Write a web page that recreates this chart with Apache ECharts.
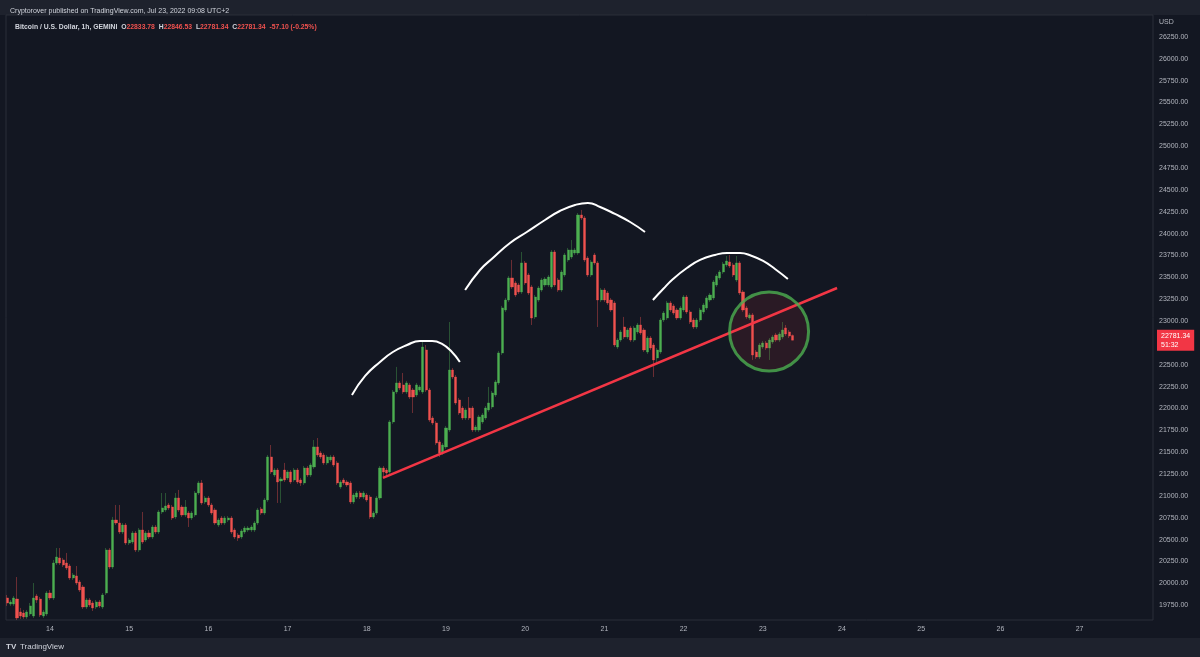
<!DOCTYPE html>
<html><head><meta charset="utf-8">
<script src="https://cdn.jsdelivr.net/npm/echarts@6/dist/echarts.min.js"></script>
<style>html,body{margin:0;padding:0;background:#131722;}#c{width:1200px;height:657px;}</style>
</head><body><div id="c"></div>
<script>
// hourly candles: [hours from Jul 14 00:00, open, close, low, high]
const candles = [
[-13,19832,19775,19741,19866],[-12,19763,19786,19741,19809],[-11,19763,19832,19741,19855],[-10,19820,19603,19580,20072],
[-9,19672,19626,19592,19718],[-8,19660,19615,19592,19695],[-7,19615,19672,19592,19695],[-6,19649,19741,19626,19775],
[-5,19626,19832,19603,20003],[-4,19855,19809,19775,19878],[-3,19820,19638,19615,19843],[-2,19626,19672,19603,19695],
[-1,19649,19889,19626,19912],[0,19889,19832,19809,19923],[1,19832,20232,19809,20267],[2,20232,20301,20209,20404],
[3,20290,20232,20209,20404],[4,20267,20209,20186,20290],[5,20232,20175,20152,20347],[6,20198,20061,20038,20221],
[7,20061,20095,20038,20118],[8,20084,20003,19980,20198],[9,20015,19923,19900,20038],[10,19958,19729,19706,19980],
[11,19729,19809,19706,19832],[12,19809,19752,19729,19832],[13,19775,19718,19683,19798],[14,19729,19786,19706,19809],
[15,19786,19741,19718,19809],[16,19729,19866,19706,19889],[17,19889,20381,19866,20404],[18,20381,20186,20163,20404],
[19,20186,20724,20163,20759],[20,20724,20690,20667,20896],[21,20690,20587,20564,20896],[22,20587,20667,20564,20690],
[23,20667,20461,20438,20690],[24,20461,20495,20438,20518],[25,20472,20575,20450,20598],[26,20575,20381,20358,20598],
[27,20381,20610,20358,20632],[28,20610,20472,20450,20816],[29,20495,20575,20472,20598],[30,20575,20530,20507,20610],
[31,20530,20644,20507,20667],[32,20644,20587,20564,20667],[33,20587,20816,20564,20839],[34,20816,20862,20793,21033],
[35,20839,20884,20816,21033],[36,20896,20862,20839,20919],[37,20873,20747,20724,20896],[38,20759,20976,20736,21033],
[39,20976,20839,20816,21068],[40,20873,20782,20759,20896],[41,20782,20873,20759,20953],[42,20804,20747,20644,20827],
[43,20747,20804,20724,20827],[44,20782,21033,20759,21056],[45,21033,21148,21010,21171],[46,21148,20919,20896,21182],
[47,20930,20976,20907,20999],[48,20976,20896,20873,20999],[49,20896,20804,20782,20919],[50,20839,20690,20667,20862],
[51,20667,20724,20644,20747],[52,20747,20690,20667,20770],[53,20690,20747,20667,20770],[54,20724,20747,20701,20770],
[55,20747,20587,20564,20770],[56,20610,20530,20507,20632],[57,20552,20518,20484,20575],[58,20530,20598,20507,20621],
[59,20587,20632,20564,20655],[60,20610,20632,20587,20655],[61,20610,20644,20587,20667],[62,20610,20690,20587,20713],
[63,20690,20839,20667,20862],[64,20850,20804,20782,20873],[65,20804,20953,20782,20976],[66,20953,21445,20930,21468],
[67,21445,21274,21251,21582],[68,21239,21296,21216,21319],[69,21296,21159,20919,21319],[70,21171,21194,20919,21216],
[71,21296,21182,21159,21377],[72,21205,21274,21182,21296],[73,21274,21159,21136,21296],[74,21182,21296,21159,21319],
[75,21296,21159,21136,21319],[76,21182,21148,21114,21205],[77,21148,21319,21125,21342],[78,21319,21239,21216,21342],
[79,21239,21354,21216,21377],[80,21331,21560,21308,21639],[81,21560,21468,21445,21662],[82,21491,21445,21422,21514],
[83,21468,21377,21354,21491],[84,21377,21445,21354,21468],[85,21411,21445,21388,21468],[86,21445,21354,21331,21468],
[87,21377,21148,21125,21400],[88,21102,21159,21079,21182],[89,21182,21148,21125,21205],[90,21159,21125,21102,21182],
[91,21148,20930,20907,21171],[92,20930,21010,20907,21033],[93,20987,21033,20964,21056],[94,21033,20987,20964,21056],
[95,20987,21033,20964,21056],[96,21010,20953,20930,21033],[97,20987,20759,20736,21010],[98,20759,20804,20736,20827],
[99,20804,20976,20782,20999],[100,20976,21319,20953,21342],[101,21319,21274,21216,21342],[102,21296,21262,21228,21319],
[103,21274,21846,21251,21868],[104,21846,22189,21823,22211],[105,22189,22292,22166,22475],[106,22292,22234,22211,22315],
[107,22269,22189,22166,22406],[108,22189,22292,22166,22315],[109,22269,22131,22108,22292],[110,22211,22131,21948,22234],
[111,22154,22269,22131,22292],[112,22211,22246,22189,22269],[113,22189,22703,22166,22761],[114,22669,22211,22189,22726],
[115,22211,21868,21846,22234],[116,21891,21834,21811,21914],[117,21834,21605,21582,21857],[118,21617,21491,21445,21639],
[119,21491,21582,21468,21605],[120,21560,21777,21537,21800],[121,21754,22440,21731,22989],[122,22440,22360,22337,22463],
[123,22360,22063,22040,22383],[124,22097,21948,21926,22120],[125,22005,21891,21868,22028],[126,21891,21983,21868,22005],
[127,22005,21891,21868,22131],[128,22005,21754,21731,22028],[129,21754,21788,21731,21811],[130,21754,21903,21731,21926],
[131,21846,21926,21823,21948],[132,21891,22005,21868,22028],[133,21983,22063,21960,22246],[134,22017,22177,21994,22200],
[135,22154,22303,22131,22326],[136,22292,22635,22269,22658],[137,22635,23150,22612,23173],[138,23127,23241,23104,23264],
[139,23241,23493,23218,23516],[140,23493,23390,23367,23699],[141,23436,23298,23275,23459],[142,23413,23333,23310,23436],
[143,23333,23665,23310,23790],[144,23665,23436,23413,23687],[145,23527,23321,23298,23550],[146,23390,23035,22955,23413],
[147,23047,23275,23024,23298],[148,23241,23378,23218,23401],[149,23355,23470,23333,23493],[150,23413,23481,23390,23504],
[151,23413,23504,23390,23527],[152,23390,23790,23367,23813],[153,23790,23413,23390,23813],[154,23470,23355,23333,23493],
[155,23355,23561,23333,23584],[156,23527,23756,23504,23779],[157,23699,23813,23676,23836],[158,23733,23813,23710,23927],
[159,23779,23813,23756,23836],[160,23779,24213,23756,24236],[161,24213,24179,24156,24271],[162,24179,23699,23676,24202],
[163,23721,23527,23504,23744],[164,23527,23676,23504,23699],[165,23756,23665,23642,23779],[166,23665,23241,22932,23687],
[167,23241,23355,23218,23378],[168,23355,23241,23218,23378],[169,23321,23207,23184,23344],[170,23241,23127,23104,23264],
[171,23207,22726,22703,23230],[172,22703,22783,22681,22806],[173,22783,22875,22761,22898],[174,22932,22818,22795,23047],
[175,22818,22898,22795,22921],[176,22921,22783,22761,22944],[177,22783,22921,22761,22944],[178,22875,22955,22852,22978],
[179,22955,22864,22841,23047],[180,22898,22669,22646,22921],[181,22646,22806,22623,22829],[182,22806,22692,22669,22829],
[183,22726,22555,22360,22749],[184,22578,22669,22532,22692],[185,22646,23012,22623,23035],[186,23012,23092,22989,23115],
[187,23035,23207,23012,23230],[188,23207,23127,23104,23230],[189,23173,23092,23070,23196],[190,23127,23035,23012,23150],
[191,23035,23150,23012,23173],[192,23127,23275,23104,23298],[193,23275,23104,23081,23298],[194,23104,22989,22966,23127],
[195,23012,22932,22909,23035],[196,22932,23012,22909,23035],[197,23012,23127,22989,23150],[198,23104,23184,23081,23207],
[199,23150,23264,23127,23287],[200,23241,23298,23218,23321],[201,23264,23447,23241,23470],[202,23413,23516,23390,23539],
[203,23493,23561,23470,23584],[204,23561,23653,23539,23676],[205,23642,23687,23619,23744],[206,23676,23630,23607,23756],
[207,23642,23527,23504,23665],[208,23470,23665,23447,23744],[209,23665,23321,23298,23687],[210,23333,23127,23104,23355],
[211,23150,23047,23024,23173],[212,23035,23070,23012,23092],[213,23070,22612,22555,23092],[214,22646,22589,22566,22669],
[215,22589,22726,22566,22749],[216,22703,22749,22681,22772],[217,22749,22692,22669,22772],[218,22692,22783,22555,22806],
[219,22761,22818,22738,22841],[220,22841,22783,22761,22864],[221,22783,22852,22761,22875],[222,22818,22898,22795,22989],
[223,22921,22852,22829,22955],[224,22875,22829,22806,22898],[225,22833.78,22781.34,22781.34,22846.53]
];
const lastClose = 22781.34;
const countdown = '51:32';
const dayTickHours = [0,24,48,72,96,120,144,168,192,216,240,264,288,312];
const dayLabels = ['14','15','16','17','18','19','20','21','22','23','24','25','26','27'];
const priceTicks = [19750,20000,20250,20500,20750,21000,21250,21500,21750,22000,22250,22500,23000,23250,23500,23750,24000,24250,24500,24750,25000,25250,25500,25750,26000,26250];
// hand drawings in chart coordinates [hour, price]
const trendLine = [[100.9,21205],[238.5,23378]];
const arcLeft = [[91.5,22154],[95.5,22372],[100,22532],[103.9,22646],[108.2,22726],[112.1,22772],[115.8,22772],[118.8,22738],[121.8,22646],[124.2,22532]];
const arcHead = [[125.8,23355],[130.3,23584],[134.2,23721],[139.4,23893],[144.5,24019],[150,24156],[154.5,24259],[159.1,24328],[163,24351],[166.7,24305],[171.2,24225],[175.8,24133],[180.3,24019]];
const arcRight = [[182.7,23241],[185.8,23367],[188.8,23481],[193,23607],[197,23699],[201.5,23756],[205.2,23779],[209.1,23779],[212.7,23744],[216.1,23687],[219.7,23596],[223.6,23481]];
const circleCenter = [217.9,22881];

const UP = '#4caf50', DOWN = '#f0524f', BG = '#131722', TXT = '#b2b5be', LINE = '#2a2e39';
const FONT = 'Liberation Sans';

const chart = echarts.init(document.getElementById('c'), null, {renderer:'canvas'});
const arcSeries = (d) => ({type:'line', data:d, smooth:0.5, symbol:'none', z:6, silent:true,
  lineStyle:{color:'#ffffff', width:2}});
chart.setOption({
  backgroundColor: BG,
  animation: false,
  textStyle: {fontFamily: FONT},
  title: [
    {text:'Cryptorover published on TradingView.com, Jul 23, 2022 09:08 UTC+2', left:5, top:3,
     textStyle:{fontSize:7, color:'#d1d4dc', fontWeight:'normal', fontFamily:FONT}},
    {text:'{n|Bitcoin / U.S. Dollar, 1h, GEMINI}  {k|O}{v|22833.78}  {k|H}{v|22846.53}  {k|L}{v|22781.34}  {k|C}{v|22781.34}  {v|-57.10 (-0.25%)}',
     left:10, top:19,
     textStyle:{fontSize:7, fontFamily:FONT, rich:{
       n:{color:'#d1d4dc', fontSize:6.8, fontFamily:FONT},
       k:{color:'#d1d4dc', fontSize:6.8, fontFamily:FONT},
       v:{color:'#f0524f', fontSize:6.8, fontFamily:FONT}}}}
  ],
  graphic: [
    {type:'rect', left:0, top:0, shape:{width:1200, height:15}, style:{fill:'#1e222d'}, z:-1},
    {type:'rect', left:0, top:638, shape:{width:1200, height:19}, style:{fill:'#1e222d'}, z:-1},
    {type:'text', left:6, top:643, style:{text:'TV', fill:'#d1d4dc', font:'bold 8px '+FONT}},
    {type:'text', left:20, top:643, style:{text:'TradingView', fill:'#d1d4dc', font:'8px '+FONT}},
    {type:'text', left:1159, top:19, style:{text:'USD', fill:TXT, font:'7px '+FONT}}
  ],
  grid: {left:6, right:47, top:15, bottom:37, show:true, borderColor:LINE, borderWidth:1},
  xAxis: {type:'value', min:-13.33, max:334.24,
    axisLine:{show:false}, axisTick:{show:false}, splitLine:{show:false},
    axisLabel:{customValues:dayTickHours, color:TXT, fontSize:7, margin:6, fontFamily:FONT,
      formatter:(v)=>dayLabels[dayTickHours.indexOf(v)] || ''}},
  yAxis: {type:'value', position:'right', min:19580, max:26501, scale:true,
    axisLine:{show:false}, axisTick:{show:false}, splitLine:{show:false},
    axisLabel:{customValues:priceTicks, color:TXT, fontSize:7, margin:6, fontFamily:FONT,
      formatter:(v)=>v.toFixed(2)}},
  series: [
    {type:'candlestick', data:candles, encode:{x:0, y:[1,2,3,4]}, barWidth:2.6, z:3,
     itemStyle:{color:UP, color0:DOWN, borderColor:UP, borderColor0:DOWN, borderWidth:0.4},
     markLine:{silent:true, symbol:'none', animation:false,
       lineStyle:{color:'rgba(0,0,0,0)', width:0}, data:[{yAxis:lastClose}],
       label:{show:true, position:'end', distance:4, formatter: lastClose.toFixed(2)+'\n'+countdown,
         backgroundColor:'#f23645', color:'#ffffff', fontSize:7, lineHeight:9, padding:[2,4,1,4], fontFamily:FONT}}},
    {type:'line', data:trendLine, symbol:'none', z:5, silent:true, lineStyle:{color:'#f23645', width:2.5}},
    arcSeries(arcLeft), arcSeries(arcHead), arcSeries(arcRight),
    {type:'scatter', data:[circleCenter], symbol:'circle', symbolSize:79, z:7, silent:true,
     itemStyle:{color:'rgba(242,54,69,0.13)', borderColor:'#4caf50', borderWidth:3}}
  ]
});
</script></body></html>
